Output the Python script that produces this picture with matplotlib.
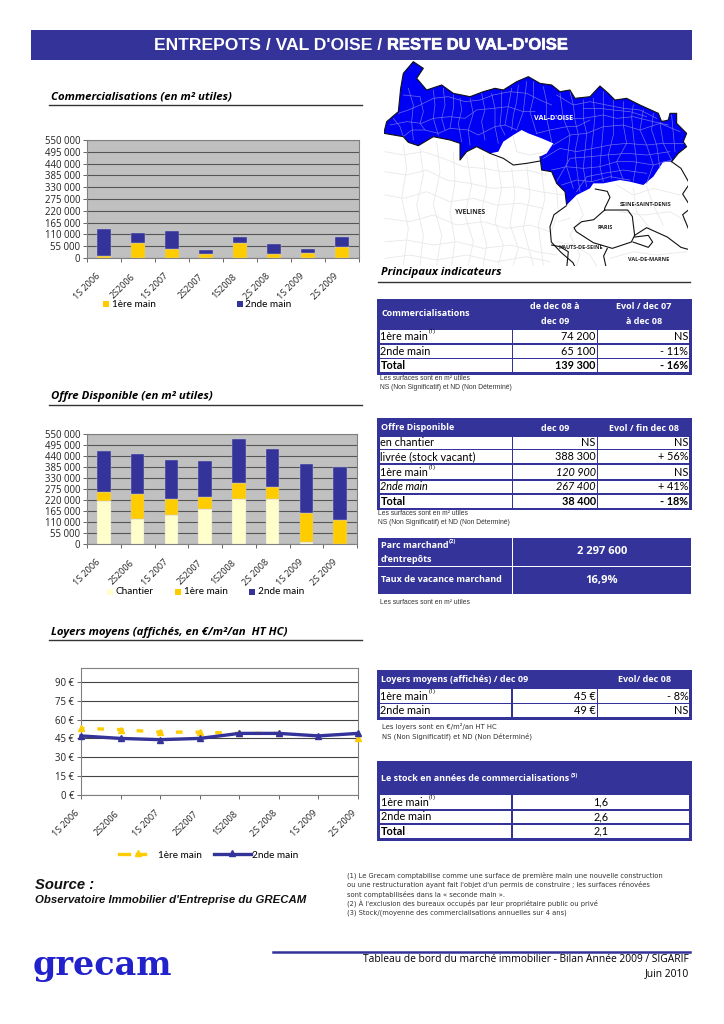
import numpy as np
import matplotlib
matplotlib.use("Agg")
import matplotlib.pyplot as plt
from matplotlib.patches import Rectangle, Polygon
from matplotlib.transforms import ScaledTranslation
import matplotlib.patheffects as pe

W, H = 724, 1024
BLUE = "#333399"
YELLOW = "#FFCC00"
CREAM = "#FFFFCC"
SANS = "Open Sans"
BODY = "Lato"
ARIAL = "Liberation Sans"

plt.rcParams["font.family"] = [SANS, "DejaVu Sans"]

# donnees des graphiques
periodes = ["1S 2006", "2S2006", "1S 2007", "2S2007", "1S2008", "2S 2008", "1S 2009", "2S 2009"]
ticks_m2 = [0, 55000, 110000, 165000, 220000, 275000, 330000, 385000, 440000, 495000, 550000]
ticks_eur = [0, 15, 30, 45, 60, 75, 90]

comm_1ere = [11000, 70000, 43000, 19000, 72000, 20000, 23000, 50000]
comm_2nde = [123000, 48000, 83000, 20000, 28000, 45000, 19000, 46000]

offre_chantier = [215000, 125000, 145000, 175000, 223000, 223000, 8000, 0]
offre_1ere = [47000, 123000, 78000, 62000, 80000, 60000, 145000, 120000]
offre_2nde = [203000, 200000, 199000, 178000, 220000, 190000, 247000, 267000]

# pas de point visible pour la 1ere main en 1S 2009
loyer_1ere = [53, 52, 50, 50, 49, 49, np.nan, 45]
loyer_2nde = [47, 45, 44, 45, 49, 49, 47, 49]

# tableaux
t1_head = ["Commercialisations", "de dec 08 à\ndec 09", "Evol / dec 07\nà dec 08"]
t1_rows = [["1ère main", "74 200", "NS"], ["2nde main", "65 100", "- 11%"], ["Total", "139 300", "- 16%"]]
t2_head = ["Offre Disponible", "dec 09", "Evol / fin dec 08"]
t2_rows = [["en chantier", "NS", "NS"], ["livrée (stock vacant)", "388 300", "+ 56%"],
           ["1ère main", "120 900", "NS"], ["2nde main", "267 400", "+ 41%"], ["Total", "38 400", "- 18%"]]
t3_head = ["Loyers moyens (affichés) / dec 09", "", "Evol/ dec 08"]
t3_rows = [["1ère main", "45 €", "- 8%"], ["2nde main", "49 €", "NS"]]
t4_rows = [["1ère main", "1,6"], ["2nde main", "2,6"], ["Total", "2,1"]]

# carte : contours
oise_outline = [(42, 232), (50, 200), (85, 170), (92, 100), (100, 55), (130, 20), (160, 40), (140, 70), (170, 105),
                (215, 90), (250, 115), (300, 125), (340, 110), (375, 100), (400, 105), (440, 80), (475, 65), (510, 85),
                (545, 90), (570, 110), (600, 105), (615, 130), (660, 125), (690, 93), (715, 115), (735, 135), (770, 130),
                (810, 150), (865, 175), (875, 200), (895, 195), (900, 175), (920, 175), (920, 205), (950, 235), (940, 260),
                (950, 275), (925, 295), (905, 320), (880, 320), (850, 365), (820, 390), (780, 380), (750, 375), (700, 385),
                (670, 385), (660, 400), (620, 420), (590, 450), (585, 410), (560, 385), (545, 350), (515, 345), (510, 305),
                (530, 295), (550, 265), (515, 250), (475, 235), (455, 225), (430, 240), (400, 260), (385, 290), (360, 295),
                (320, 275), (290, 290), (270, 315), (270, 265), (240, 255), (190, 245), (145, 272), (115, 262), (100, 245),
                (42, 235)]
communes_oise = [
    [(85, 175), (115, 165), (150, 150), (190, 130), (235, 125), (285, 140), (330, 135), (370, 120), (420, 110), (470, 115), (510, 135), (545, 150)],
    [(60, 210), (110, 200), (155, 205), (190, 190), (240, 185), (285, 190), (320, 165), (370, 160), (415, 155), (460, 170), (495, 170)],
    [(100, 245), (125, 225), (165, 225), (205, 235), (240, 220), (295, 225), (325, 240), (375, 215), (405, 210), (440, 225)],
    [(115, 100), (130, 150), (125, 200), (130, 255)], [(190, 105), (195, 150), (190, 190), (205, 240)],
    [(250, 120), (250, 160), (240, 220)], [(300, 130), (310, 175), (295, 225), (300, 270)],
    [(365, 115), (375, 160), (375, 215), (385, 265)], [(425, 100), (415, 155), (405, 210)],
    [(470, 80), (460, 170), (440, 225)],
    [(550, 270), (600, 240), (650, 235), (700, 215), (760, 210), (810, 225), (870, 205), (930, 230)],
    [(520, 310), (570, 280), (620, 290), (670, 280), (720, 270), (770, 265), (830, 270), (880, 265), (945, 265)],
    [(545, 345), (590, 335), (640, 340), (690, 335), (740, 320), (790, 320), (850, 330), (905, 315)],
    [(575, 390), (620, 375), (665, 380), (720, 365), (780, 375)],
    [(560, 120), (610, 150), (660, 140), (710, 150), (760, 160), (810, 165), (860, 190)],
    [(530, 190), (580, 190), (640, 190), (700, 180), (740, 190), (790, 185), (850, 200), (895, 210)],
    [(570, 115), (580, 190), (600, 240), (590, 335), (610, 400)], [(640, 135), (640, 190), (650, 235), (640, 340), (650, 395)],
    [(700, 110), (700, 180), (700, 215), (690, 335), (700, 380)], [(760, 140), (760, 210), (770, 265), (740, 320), (760, 375)],
    [(820, 165), (810, 225), (830, 270), (850, 330), (830, 385)], [(880, 195), (870, 205), (880, 265), (905, 315)],
    [(100, 120), (150, 125), (160, 170), (150, 205), (165, 225)], [(70, 190), (90, 215), (100, 245)],
    [(220, 100), (225, 150), (215, 190), (225, 225)], [(270, 130), (275, 165), (265, 205), (275, 260)],
    [(335, 115), (345, 165), (335, 200), (345, 255)], [(395, 110), (395, 160), (390, 210), (405, 240)],
    [(445, 90), (440, 140), (430, 180), (425, 225)], [(490, 80), (490, 130), (480, 170), (500, 235)],
    [(520, 95), (530, 140), (530, 190), (545, 260)], [(500, 235), (540, 225), (590, 215), (620, 215), (660, 195)],
    [(600, 110), (610, 150), (615, 195), (625, 240), (615, 290), (620, 340), (630, 410)],
    [(670, 130), (675, 185), (670, 235), (665, 280), (665, 380)], [(730, 135), (730, 185), (730, 240), (715, 300), (725, 370)],
    [(790, 150), (785, 185), (790, 240), (800, 320), (790, 378)], [(850, 175), (845, 225), (860, 270), (870, 340)],
    [(905, 180), (910, 235), (915, 290)], [(560, 380), (600, 310), (660, 305), (710, 300), (770, 295), (830, 300), (900, 290)],
    [(620, 410), (650, 365), (700, 355), (760, 345), (830, 355)], [(640, 160), (690, 160), (730, 165), (780, 170), (830, 185)],
]
communes_blanc = [
    [(45, 290), (100, 300), (160, 290), (220, 310), (280, 335), (340, 340), (400, 350), (470, 345), (530, 360)],
    [(45, 350), (110, 360), (170, 345), (230, 375), (300, 385), (370, 400), (440, 395), (510, 410), (580, 420)],
    [(45, 420), (100, 430), (170, 410), (240, 440), (310, 430), (380, 450), (450, 445), (520, 460)],
    [(45, 490), (120, 500), (190, 480), (260, 510), (340, 500), (410, 520), (480, 510), (540, 530)],
    [(45, 560), (110, 555), (190, 570), (260, 560), (340, 580), (420, 570), (500, 590), (560, 600)],
    [(45, 610), (120, 600), (200, 615), (290, 600), (380, 620), (470, 605), (540, 620)],
    [(100, 270), (110, 340), (95, 430), (115, 520), (100, 630)], [(200, 260), (210, 350), (190, 450), (215, 540), (200, 630)],
    [(290, 300), (305, 390), (285, 480), (310, 560), (295, 630)], [(380, 310), (395, 400), (375, 500), (400, 570), (385, 630)],
    [(470, 330), (480, 420), (460, 520), (490, 630)], [(560, 400), (565, 470), (540, 540)],
    [(150, 280), (160, 360), (140, 450), (160, 540), (150, 630)], [(250, 290), (255, 380), (240, 470), (255, 560), (245, 630)],
    [(340, 300), (350, 395), (330, 490), (350, 570), (340, 630)], [(425, 340), (435, 420), (420, 510), (445, 580), (430, 630)],
    [(515, 350), (525, 430), (505, 510), (520, 630)],
    [(430, 245), (440, 290), (480, 300), (530, 290)], [(620, 430), (640, 480), (600, 540), (630, 600), (620, 632)],
    [(740, 390), (790, 420), (850, 400), (930, 420)], [(750, 470), (820, 480), (900, 470), (950, 500)],
    [(800, 470), (840, 520)], [(720, 610), (790, 590), (860, 600), (950, 590)], [(830, 395), (850, 450), (880, 510)],
    [(560, 560), (610, 570), (660, 600), (680, 632)], [(565, 500), (600, 490)], [(790, 400), (800, 470)],
]
limites_noires = [
    oise_outline[:39], oise_outline[48:54], oise_outline[62:],
    [(360, 295), (400, 310), (430, 330), (470, 325), (510, 318)],
    [(588, 453), (552, 479), (540, 515), (544, 561), (573, 592), (609, 623), (619, 644)],
    [(676, 402), (712, 409), (720, 427), (704, 460), (704, 465)],
    [(704, 465), (773, 465), (787, 484), (794, 541), (784, 561), (727, 580), (670, 563), (619, 530), (612, 518), (635, 500), (671, 494), (704, 465)],
    [(794, 541), (830, 518), (892, 546), (933, 577), (969, 587)],
    [(794, 546), (835, 541), (848, 561), (835, 577), (789, 561)],
    [(712, 580), (701, 603), (709, 640)],
    [(545, 570), (570, 575), (595, 590), (590, 640)],
    [(905, 320), (933, 340), (959, 386), (938, 417), (964, 458), (938, 479), (959, 530), (969, 582)],
]
map_labels = [("VAL-D'OISE", 552, 190, "white", 5.2), ("YVELINES", 301, 472, "#222222", 4.8),
              ("SEINE-SAINT-DENIS", 828, 447, "#222222", 4.0), ("PARIS", 705, 517, "#222222", 4.0),
              ("HAUTS-DE-SEINE", 632, 577, "#222222", 4.0), ("VAL-DE-MARNE", 835, 614, "#222222", 4.0)]

fig = plt.figure(figsize=(W / 100, H / 100), dpi=100, facecolor="white")


def px_axes(x0, y0, x1, y1):
    return fig.add_axes([x0 / W, 1 - y1 / H, (x1 - x0) / W, (y1 - y0) / H])


page = fig.add_axes([0, 0, 1, 1], zorder=0)
page.set_xlim(0, W)
page.set_ylim(H, 0)
page.axis("off")


def txt(x, y, s, size=7.3, color="black", weight="normal", style="normal", ha="left", va="center", family=SANS, **kw):
    return page.text(x, y, s, fontsize=size, color=color, fontweight=weight, fontstyle=style, ha=ha, va=va,
                     family=family, **kw)


def box(x0, y0, x1, y1, color):
    page.add_patch(Rectangle((x0, y0), x1 - x0, y1 - y0, facecolor=color, edgecolor="none"))


def section(x, y, s, line_y=None, x0=49, x1=362):
    txt(x, y, s, size=8.2, weight="bold", style="italic")
    if line_y is not None:
        page.plot([x0, x1], [line_y, line_y], color="#333333", lw=1.0)


def shift_labels(ax, dx_px):
    off = ScaledTranslation(dx_px / 100, 0, fig.dpi_scale_trans)
    for lab in ax.get_xticklabels():
        lab.set_transform(lab.get_transform() + off)


def bar_chart(rect, series, colors):
    ax = px_axes(*rect)
    ax.set_facecolor("#C0C0C0")
    x = np.arange(len(periodes))
    bottom = np.zeros(len(periodes))
    for vals, c in zip(series, colors):
        ax.bar(x, vals, width=0.4, bottom=bottom, color=c, edgecolor="#C8C8D8", linewidth=0.3, zorder=3)
        bottom += np.array(vals)
    ax.set_xlim(-0.5, 7.5)
    ax.set_ylim(0, 550000)
    ax.set_yticks(ticks_m2)
    ax.set_yticklabels([f"{v:,}".replace(",", " ") for v in ticks_m2], fontsize=6.9, color="#222222")
    ax.set_xticks(x)
    ax.set_xticklabels(periodes, rotation=45, ha="right", rotation_mode="anchor", fontsize=6.5, color="#222222")
    ax.set_xticks(np.arange(9) - 0.5, minor=True)
    ax.tick_params(axis="x", which="major", length=0, pad=10)
    ax.tick_params(axis="x", which="minor", length=3, width=0.7, color="#666666")
    ax.tick_params(axis="y", length=3, width=0.7, color="#666666", pad=2)
    shift_labels(ax, -8)
    ax.grid(axis="y", color="#555555", lw=0.8, zorder=1)
    ax.set_axisbelow(True)
    for s in ax.spines.values():
        s.set_color("#808080")
        s.set_linewidth(0.8)
    return ax


# bandeau titre
box(31, 30, 692, 60, BLUE)
txt(387, 45, "ENTREPOTS / VAL D'OISE / ", size=12.6, color="white", weight="bold", ha="right", family=ARIAL)
t = txt(387, 45, "RESTE DU VAL-D'OISE", size=11.9, color="white", weight="bold", family=ARIAL)
t.set_path_effects([pe.withStroke(linewidth=0.4, foreground="white")])

# colonne gauche
section(51, 97, "Commercialisations (en m² utiles)", 105)
bar_chart((87, 140, 359, 258), [comm_1ere, comm_2nde], [YELLOW, BLUE])
box(103, 301, 109, 307, YELLOW)
txt(112, 304.5, "1ère main", size=7.2, family=BODY)
box(237, 301, 243, 307, BLUE)
txt(245, 304.5, "2nde main", size=7.2, family=BODY)

section(51, 397, "Offre Disponible (en m² utiles)", 405)
bar_chart((87, 434, 357, 544), [offre_chantier, offre_1ere, offre_2nde], [CREAM, YELLOW, BLUE])
box(107, 589, 113, 595, CREAM)
txt(116, 592, "Chantier", size=7.2, family=BODY)
box(175, 589, 181, 595, YELLOW)
txt(184, 592, "1ère main", size=7.2, family=BODY)
box(249, 589, 255, 595, BLUE)
txt(258, 592, "2nde main", size=7.2, family=BODY)

section(51, 632, "Loyers moyens (affichés, en €/m²/an  HT HC)", 640)
ax = px_axes(81, 668, 358, 795)
x = np.arange(len(periodes))
ax.plot(x, loyer_1ere, color=YELLOW, lw=2.4, ls=(1.0, (2.0, 3.9)), marker="^", ms=5, clip_on=False, zorder=3)
ax.plot(x, loyer_2nde, color=BLUE, lw=2.4, marker="^", ms=5, clip_on=False, zorder=4)
ax.set_xlim(0, 7)
ax.set_ylim(0, 101)
ax.set_yticks(ticks_eur)
ax.set_yticklabels([f"{v} €" for v in ticks_eur], fontsize=6.9, color="#222222")
ax.set_xticks(x)
ax.set_xticklabels(periodes, rotation=45, ha="right", rotation_mode="anchor", fontsize=6.5, color="#222222")
ax.tick_params(axis="x", length=3, width=0.7, color="#666666", pad=7)
ax.tick_params(axis="y", length=3, width=0.7, color="#666666", pad=2)
shift_labels(ax, -6)
ax.grid(axis="y", color="#444444", lw=0.8, zorder=1)
for s in ax.spines.values():
    s.set_color("#808080")
    s.set_linewidth(0.8)

page.plot([119, 129], [854, 854], color=YELLOW, lw=2.4)
page.plot([137, 145], [854, 854], color=YELLOW, lw=2.4)
page.plot([138], [853], marker="^", ms=5, color=YELLOW)
txt(158, 855, "1ère main", size=7.2, family=BODY)
page.plot([214, 251], [854, 854], color=BLUE, lw=2.4)
page.plot([232], [853], marker="^", ms=5, color=BLUE)
txt(252, 855, "2nde main", size=7.2, family=BODY)

txt(35, 885, "Source :", size=10.6, weight="bold", style="italic", family=ARIAL, color="#111111")
txt(35, 900, "Observatoire Immobilier d'Entreprise du GRECAM", size=8.2, weight="bold", style="italic", family=ARIAL, color="#111111")

# carte
mp = px_axes(384, 55, 688.3, 265.7)
mp.set_xlim(42, 955)
mp.set_ylim(632, 0)
mp.axis("off")
mp.patch.set_alpha(0)
for line in communes_blanc:
    a = np.array(line)
    mp.plot(a[:, 0], a[:, 1], color="#E8E8E8", lw=0.6, zorder=1)
mp.add_patch(Polygon(oise_outline, closed=True, facecolor="#0000F5", edgecolor="none", zorder=2))
for line in communes_oise:
    a = np.array(line)
    mp.plot(a[:, 0], a[:, 1], color="#6E6EEA", lw=0.5, zorder=3)
for line in limites_noires:
    a = np.array(line)
    mp.plot(a[:, 0], a[:, 1], color="#111111", lw=0.8, zorder=4)
for s, lx, ly, c, fs in map_labels:
    mp.text(lx, ly, s, color=c, fontsize=fs, fontweight="bold", ha="center", va="center", family=SANS, zorder=5)

section(381, 273, "Principaux indicateurs", 282, x0=378, x1=690)


# tableaux
def table(frame, rows_y, cols, rows):
    x0, y0, x1, y1 = frame
    box(x0, y0, x1, y1, BLUE)
    for (ya, yb), row in zip(rows_y, rows):
        for (xa, xb), val in zip(cols, row):
            box(xa, ya, xb, yb, "white")


cols3 = [(380, 511.7), (513.3, 596.7), (598.3, 689.3)]


def fill_row(y, row, cols, size=7.8, bold=False, italic=(False, False, False)):
    w = "bold" if bold else "normal"
    txt(cols[0][0] + 0.5, y, row[0], size=size, weight=w, style="italic" if italic[0] else "normal", family=BODY)
    for i, val in enumerate(row[1:], start=1):
        st = "italic" if italic[i] else "normal"
        txt(cols[i][1] - 1, y, val, size=size, weight=w, ha="right", style=st, family=BODY)


# Commercialisations
r1 = [(329.7, 343.3), (344.7, 358), (359.3, 372.3)]
table((377, 299, 692, 375), r1, cols3, t1_rows)
txt(381, 314, t1_head[0], size=6.5, color="white", weight="bold")
txt(555, 314, t1_head[1], size=6.5, color="white", weight="bold", ha="center", linespacing=1.8)
txt(644, 314, t1_head[2], size=6.5, color="white", weight="bold", ha="center", linespacing=1.8)
for (ya, yb), row, b in zip(r1, t1_rows, [False, False, True]):
    fill_row((ya + yb) / 2, row, cols3, bold=b)
txt(428.5, 332, "(1)", size=4.2)
txt(380, 379, "Les surfaces sont en m² utiles", size=4.9, color="#333333", family=ARIAL)
txt(380, 387.5, "NS (Non Significatif) et ND (Non Déterminé)", size=4.9, color="#333333", family=ARIAL)

# Offre disponible
r2 = [(437, 449), (450.3, 463.3), (465, 479.3), (480.7, 493.3), (494.7, 507.7)]
table((377, 418.3, 692, 510), r2, cols3, t2_rows)
txt(381, 428, t2_head[0], size=6.5, color="white", weight="bold")
txt(555, 428.5, t2_head[1], size=6.5, color="white", weight="bold", ha="center")
txt(644, 428.5, t2_head[2], size=6.5, color="white", weight="bold", ha="center")
styles2 = [(False, False, False), (False, False, False), (False, True, False), (True, True, False), (False, False, False)]
for (ya, yb), row, b, it in zip(r2, t2_rows, [False, False, False, False, True], styles2):
    fill_row((ya + yb) / 2, row, cols3, bold=b, italic=it)
txt(428.5, 467, "(1)", size=4.2)
txt(378, 513.5, "Les surfaces sont en m² utiles", size=4.9, color="#333333", family=ARIAL)
txt(378, 522, "NS (Non Significatif) et ND (Non Déterminé)", size=4.9, color="#333333", family=ARIAL)

# Parc et vacance
box(378.3, 537.7, 511.7, 565.7, BLUE)
box(512.7, 537.7, 690.7, 565.7, BLUE)
box(378.3, 567.3, 511.7, 594, BLUE)
box(512.7, 567.3, 690.7, 594, BLUE)
txt(381, 545.5, "Parc marchand", size=6.5, color="white", weight="bold")
txt(449, 541, "(2)", size=4.2, color="white", weight="bold")
txt(381, 560, "d'entrepôts", size=6.5, color="white", weight="bold")
txt(381, 580, "Taux de vacance marchand", size=6.5, color="white", weight="bold")
txt(602, 552, "2 297 600", size=8.0, color="white", weight="bold", ha="center")
txt(602, 580, "16,9%", size=8.0, color="white", weight="bold", ha="center")
txt(380.5, 602.5, "Les surfaces sont en m² utiles", size=4.9, color="#333333", family=ARIAL)

# Loyers
r3 = [(689, 703.3), (704.3, 717.3)]
cols3b = [(380, 511), (513, 596.7), (598.3, 689.3)]
table((377, 670, 692.3, 720), r3, cols3b, t3_rows)
txt(381, 679.5, t3_head[0], size=6.5, color="white", weight="bold")
txt(645, 680, t3_head[2], size=6.5, color="white", weight="bold", ha="center")
for (ya, yb), row in zip(r3, t3_rows):
    fill_row((ya + yb) / 2, row, cols3b)
txt(428.5, 691.5, "(1)", size=4.2)
txt(382, 726, "Les loyers sont en €/m²/an HT HC", size=4.95, color="#333333", family="DejaVu Sans")
txt(382, 736, "NS (Non Significatif) et ND (Non Déterminé)", size=4.95, color="#333333", family="DejaVu Sans")

# Stock
r4 = [(795.3, 809), (810.7, 823.3), (825, 837.7)]
cols2 = [(380, 511), (513, 689.3)]
table((377, 761, 692.3, 840.7), r4, cols2, t4_rows)
txt(381, 778.5, "Le stock en années de commercialisations", size=6.5, color="white", weight="bold")
txt(571, 775, "(3)", size=4.2, color="white", weight="bold")
for (ya, yb), row, b in zip(r4, t4_rows, [False, False, True]):
    txt(381, (ya + yb) / 2, row[0], size=7.8, weight="bold" if b else "normal", family=BODY)
    txt(601, (ya + yb) / 2, row[1], size=7.8, ha="center", family=BODY)
txt(428.5, 798, "(1)", size=4.2)

# renvois
renvois = ["(1) Le Grecam comptabilise comme une surface de première main une nouvelle construction",
           "ou une restructuration ayant fait l'objet d'un permis de construire ; les surfaces rénovées",
           "sont comptabilisées dans la « seconde main ».",
           "(2) À l'exclusion des bureaux occupés par leur propriétaire public ou privé",
           "(3) Stock/(moyenne des commercialisations annuelles sur 4 ans)"]
for i, s in enumerate(renvois):
    txt(347, 875 + i * 9.5, s, size=4.86, color="#333333", family="DejaVu Sans")

# pied de page
page.plot([273, 690], [952, 952], color=BLUE, lw=1.8)
txt(689, 959, "Tableau de bord du marché immobilier - Bilan Année 2009 / SIGARIF", size=7.35, ha="right")
txt(689, 974, "Juin 2010", size=7.35, ha="right")
txt(33, 965, "grecam", size=24, color="#2222CC", family="DejaVu Serif", weight="bold")

fig.savefig("out.png", dpi=100)
